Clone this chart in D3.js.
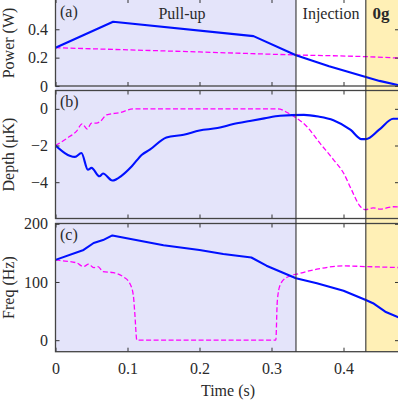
<!DOCTYPE html>
<html>
<head>
<meta charset="utf-8">
<title>Power, depth, freq</title>
<style>
  body { margin: 0; background: #fff; }
  text { font-family: "Liberation Serif", "DejaVu Serif", serif; fill: #2a2a2a; }
</style>
</head>
<body>
<svg width="398" height="402"></svg>
<script src="https://d3js.org/d3.v7.min.js"></script>
<script>
// time marks (s)
const pullUpEnd = 0.334;
const zeroGStart = 0.431;
const xTicks = [0, 0.1, 0.2, 0.3, 0.4];

// (a) power (W)
const powerBlueT = [0, 0.08, 0.275, 0.334, 0.38, 0.431, 0.45, 0.477];
const powerBlue  = [0.27, 0.453, 0.352, 0.217, 0.139, 0.063, 0.036, 0.005];
const powerMagT  = [0, 0.08, 0.2, 0.334, 0.431, 0.477];
const powerMag   = [0.27, 0.258, 0.24, 0.219, 0.207, 0.197];
const powerTicks = [0, 0.2, 0.4];

// (b) depth (uK)
const depthBlueT = [0, 0.027, 0.036, 0.045, 0.05, 0.061, 0.066, 0.079, 0.092, 0.106, 0.12, 0.131, 0.154, 0.178, 0.2, 0.225, 0.247, 0.27, 0.29, 0.312, 0.345, 0.365, 0.386, 0.41, 0.425, 0.431, 0.45, 0.469, 0.477];
const depthBlue  = [-2.0, -2.62, -2.41, -3.32, -3.22, -3.68, -3.53, -3.91, -3.64, -3.13, -2.5, -2.23, -1.56, -1.41, -1.18, -1.05, -0.83, -0.66, -0.52, -0.38, -0.33, -0.42, -0.62, -1.15, -1.65, -1.65, -1.12, -0.54, -0.54];
const depthMagT  = [0, 0.02, 0.029, 0.037, 0.044, 0.05, 0.057, 0.062, 0.071, 0.09, 0.108, 0.309, 0.326, 0.349, 0.367, 0.386, 0.4, 0.411, 0.423, 0.431, 0.441, 0.451, 0.469, 0.477];
const depthMag   = [-2.0, -1.5, -1.23, -0.82, -1.1, -0.78, -0.78, -0.69, -0.33, -0.2, 0, 0, -0.3, -0.96, -1.86, -2.77, -3.5, -4.4, -5.31, -5.5, -5.4, -5.47, -5.34, -5.35];
const depthTicks = [-4, -2, 0];

// (c) freq (Hz)
const freqBlueT = [0, 0.039, 0.053, 0.066, 0.079, 0.099, 0.15, 0.2, 0.233, 0.272, 0.293, 0.334, 0.363, 0.4, 0.431, 0.441, 0.458, 0.477];
const freqBlue  = [138, 155, 167, 172, 180, 175, 163, 155, 148, 142, 128, 106.5, 98, 85, 69, 63.6, 49, 39];
const freqMagT  = [0, 0.006, 0.029, 0.039, 0.046, 0.053, 0.059, 0.066, 0.08, 0.094, 0.103, 0.108, 0.11, 0.113, 0.306, 0.308, 0.312, 0.321, 0.34, 0.363, 0.4, 0.431, 0.477];
const freqMag   = [138, 137, 133, 126.5, 130.6, 124.8, 126.5, 118, 116, 109, 98, 78, 49, 0, 0, 66, 95, 107.6, 115, 122, 127.6, 126.5, 124.8];
const freqTicks = [0, 100, 200];

var svg = d3.select('svg');
var left = 55.5, right = 399;
var x = d3.scaleLinear().domain([0, (right - left) / 720]).range([left, right]);

var panels = [
  {id: 'a', top: -1, bottom: 86, domain: [0, 0.6135], ticks: powerTicks, fmt: d3.format('.1f'), label: 'Power (W)',
   blue: [powerBlueT, powerBlue], mag: [powerMagT, powerMag], blueCurve: d3.curveLinear},
  {id: 'b', top: 90.5, bottom: 218.5, domain: [-5.98, 1.0], ticks: depthTicks, fmt: d3.format('d'), label: 'Depth (\u03bcK)',
   blue: [depthBlueT, depthBlue], mag: [depthMagT, depthMag], blueCurve: d3.curveMonotoneX},
  {id: 'c', top: 223.5, bottom: 351.7, domain: [-19.8, 200.5], ticks: freqTicks, fmt: d3.format('d'), label: 'Freq (Hz)',
   blue: [freqBlueT, freqBlue], mag: [freqMagT, freqMag], blueCurve: d3.curveLinear}
];

// shading across all panels
var shade = svg.append('g');
shade.append('rect').attr('x', x(0)).attr('y', 0)
  .attr('width', x(pullUpEnd) - x(0)).attr('height', 351.7).attr('fill', '#e4e4fa');
shade.append('rect').attr('x', x(zeroGStart)).attr('y', 0)
  .attr('width', right - x(zeroGStart)).attr('height', 351.7).attr('fill', '#fff0b6');

panels.forEach(p => {
  var y = d3.scaleLinear().domain(p.domain).range([p.bottom, p.top]);
  var g = svg.append('g');
  var clip = 'clip' + p.id;
  svg.append('clipPath').attr('id', clip).append('rect')
    .attr('x', left).attr('y', p.top).attr('width', right - left).attr('height', p.bottom - p.top);

  var magLine = d3.line().x(d => x(d[0])).y(d => y(d[1])).curve(d3.curveMonotoneX);
  var blueLine = d3.line().x(d => x(d[0])).y(d => y(d[1])).curve(p.blueCurve);
  var magData = p.mag[0].map((t, i) => [t, p.mag[1][i]]);
  var blueData = p.blue[0].map((t, i) => [t, p.blue[1][i]]);

  g.append('path').datum(magData).attr('d', magLine).attr('clip-path', `url(#${clip})`)
    .attr('fill', 'none').attr('stroke', '#ff00ff').attr('stroke-width', 1.3).attr('stroke-dasharray', '5,2.5');
  g.append('path').datum(blueData).attr('d', blueLine).attr('clip-path', `url(#${clip})`)
    .attr('fill', 'none').attr('stroke', '#0010ff').attr('stroke-width', 2.1).attr('stroke-linejoin', 'round');

  // y axes, ticks inside
  var yl = g.append('g').attr('transform', `translate(${left},0)`)
    .call(d3.axisLeft(y).tickValues(p.ticks).tickSize(-4).tickPadding(7.5)
      .tickFormat(d => d == 0 ? '0' : p.fmt(d)));
  var yr = g.append('g').attr('transform', `translate(${right},0)`)
    .call(d3.axisRight(y).tickValues(p.ticks).tickSize(-4).tickFormat(''));
  // x ticks top and bottom
  var xb = g.append('g').attr('transform', `translate(0,${p.bottom})`)
    .call(d3.axisBottom(x).tickValues(xTicks).tickSize(-4).tickPadding(11)
      .tickFormat(d => p.id == 'c' ? (d == 0 ? '0' : d3.format('.1f')(d)) : ''));
  var xt = g.append('g').attr('transform', `translate(0,${p.top})`)
    .call(d3.axisTop(x).tickValues(xTicks).tickSize(-4).tickFormat(''));
  [yl, yr, xb, xt].forEach(a => {
    a.select('.domain').remove();
    a.selectAll('line').attr('stroke', '#333');
    a.selectAll('text').attr('font-size', 16).attr('font-family', '"Liberation Serif", serif').attr('fill', '#2a2a2a');
  });

  g.append('rect').attr('x', left).attr('y', p.top).attr('width', right - left).attr('height', p.bottom - p.top)
    .attr('fill', 'none').attr('stroke', '#444').attr('stroke-width', 1.3);

  g.append('text').attr('x', 60).attr('y', Math.max(p.top, 0) + 16.5).attr('font-size', 16).text(`(${p.id})`);

  g.append('text').attr('transform', `translate(14,${(Math.max(p.top, 0) + p.bottom) / 2}) rotate(-90)`)
    .attr('text-anchor', 'middle').attr('font-size', 16).text(p.label);
});

// phase boundaries
[pullUpEnd, zeroGStart].forEach(t => {
  svg.append('line').attr('x1', x(t)).attr('x2', x(t)).attr('y1', 0).attr('y2', 351.7)
    .attr('stroke', '#333').attr('stroke-width', 1.1);
});

svg.append('text').attr('x', 182).attr('y', 18.5).attr('text-anchor', 'middle').attr('font-size', 16).text('Pull-up');
svg.append('text').attr('x', 331).attr('y', 18.5).attr('text-anchor', 'middle').attr('font-size', 16).text('Injection');
svg.append('text').attr('x', 381).attr('y', 18.5).attr('text-anchor', 'middle').attr('font-size', 17)
  .attr('font-weight', 'bold').text('0g');

svg.append('text').attr('x', 228).attr('y', 396).attr('text-anchor', 'middle').attr('font-size', 16).text('Time (s)');
</script>
</body>
</html>
